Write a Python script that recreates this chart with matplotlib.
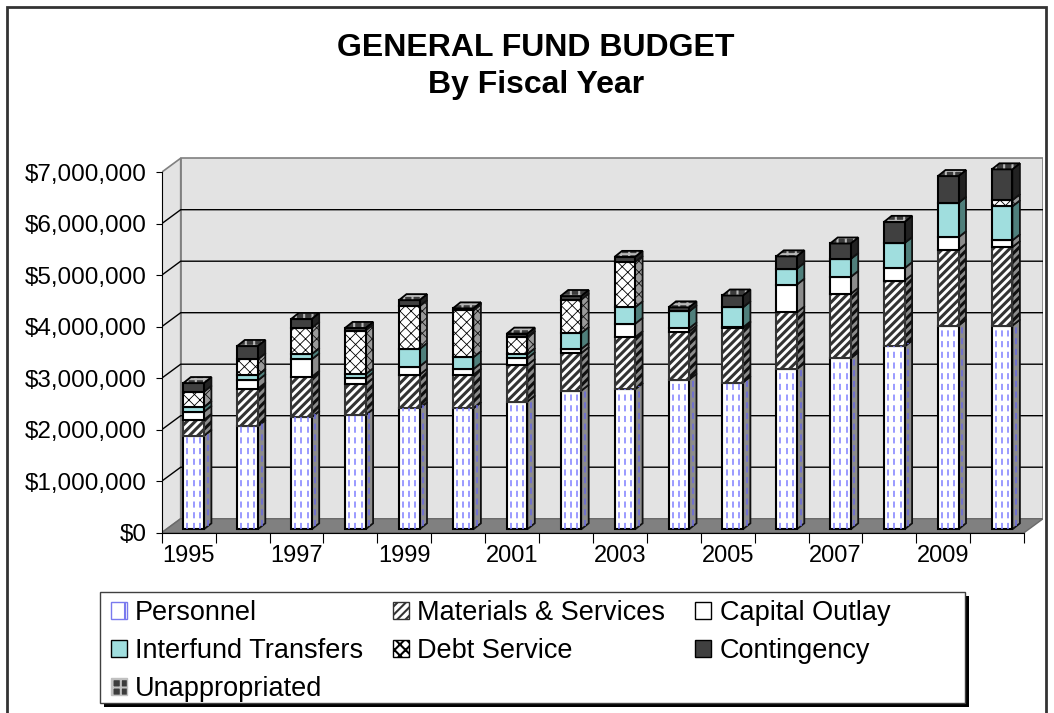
import numpy as np
import matplotlib
matplotlib.use('Agg')
import matplotlib.pyplot as plt
from matplotlib.patches import Polygon, Patch, Rectangle
from matplotlib.ticker import FuncFormatter

plt.rcParams['font.family'] = ['Liberation Sans', 'DejaVu Sans']

# data (dollars)
years = list(range(1995, 2011))
personnel = [1815000, 2000000, 2180000, 2220000, 2350000, 2350000, 2480000, 2690000,
             2720000, 2905000, 2850000, 3110000, 3320000, 3550000, 3955000, 3955000]
materials = [310000, 730000, 780000, 600000, 650000, 650000, 710000, 730000,
             1010000, 935000, 1050000, 1100000, 1250000, 1280000, 1475000, 1525000]
capital = [155000, 160000, 340000, 110000, 160000, 110000, 130000, 80000,
           260000, 60000, 20000, 540000, 330000, 240000, 240000, 130000]
interfund = [90000, 100000, 100000, 80000, 340000, 230000, 80000, 310000,
             320000, 330000, 390000, 310000, 350000, 490000, 670000, 660000]
debt = [300000, 310000, 510000, 850000, 830000, 910000, 330000, 650000,
        880000, 0, 0, 0, 0, 0, 0, 120000]
contingency = [170000, 260000, 175000, 50000, 120000, 40000, 70000, 70000,
               100000, 80000, 230000, 240000, 300000, 410000, 520000, 600000]
unappropriated = [0] * 16

W, H = 1054, 713
fig = plt.figure(figsize=(W / 100, H / 100), dpi=100)

# axes placed in pixels: front-left corner of the 3d box and back wall top
ax_left, ax_right, ax_bottom, ax_top = 161.7, 1043, 532.7, 156
ax = fig.add_axes([ax_left / W, 1 - ax_bottom / H,
                   (ax_right - ax_left) / W, (ax_bottom - ax_top) / H])
px_x = 53.9          # px per category
px_y = 51.5 / 1e6    # px per dollar
ax.set_xlim(-0.5, -0.5 + (ax_right - ax_left) / px_x)
ax.set_ylim(0, (ax_bottom - ax_top) / px_y)
ax.patch.set_visible(False)

# fake 3d offsets
wdx, wdy = 19 / px_x, 14 / px_y       # walls
bdx, bdy = 7.5 / px_x, 6 / px_y       # bar depth
offx, offy = 5 / px_x, 3.4 / px_y     # bar front face position
bw = 20.5 / px_x

n = len(years)
ymax = 7e6
x0, x1 = -0.5, n - 0.5

# walls and floor
ax.add_patch(Polygon([(x0 + wdx, wdy), (x1 + wdx, wdy), (x1 + wdx, ymax + wdy), (x0 + wdx, ymax + wdy)],
                     closed=True, fc='#e3e3e3', ec='#808080', lw=1.2, zorder=0.5))
ax.add_patch(Polygon([(x0, 0), (x0 + wdx, wdy), (x0 + wdx, ymax + wdy), (x0, ymax)],
                     closed=True, fc='#e3e3e3', ec='#808080', lw=1.2, zorder=0.5))
for v in np.arange(1e6, 7e6, 1e6):
    ax.plot([x0, x0 + wdx, x1 + wdx], [v, v + wdy, v + wdy], color='black', lw=1, zorder=0.6)
ax.add_patch(Polygon([(x0, 0), (x1, 0), (x1 + wdx, wdy), (x0 + wdx, wdy)],
                     closed=True, fc='#808080', ec='#6a6a6a', lw=1, zorder=0.7))

# name, values, front face, hatch, edge/hatch color, hatch lw, side face, side hatch
styles = [
    ('Personnel', personnel, 'white', '', 'black', 1.0, '#8c8c8c', ''),
    ('Materials & Services', materials, 'white', '////', '#333333', 2.2, '#8c8c8c', '////'),
    ('Capital Outlay', capital, 'white', '', 'black', 1.0, '#8c8c8c', ''),
    ('Interfund Transfers', interfund, '#a0dede', '', 'black', 1.0, '#4f7f7b', ''),
    ('Debt Service', debt, 'white', 'xxx', 'black', 0.6, '#9a9a9a', 'xxx'),
    ('Contingency', contingency, '#404040', '', 'black', 1.0, '#222222', ''),
    ('Unappropriated', unappropriated, '#3c3c3c', '++', 'black', 1.0, '#222222', ''),
]


def hlw(artist, lw):
    if hasattr(artist, 'set_hatch_linewidth'):
        artist.set_hatch_linewidth(lw)


xc = np.arange(n) + offx
bottom = np.full(n, offy)
handles = {}
for name, vals, fc, hatch, ec, hw, sfc, shatch in styles:
    plt.rcParams['hatch.linewidth'] = hw
    vals = np.array(vals, dtype=float)
    bars = ax.bar(xc, vals, bw, bottom=bottom, color=fc, hatch=hatch or None,
                  edgecolor=ec, lw=1.5, zorder=3)
    for r in bars:
        hlw(r, hw)
        x, w, y, h = r.get_x(), r.get_width(), r.get_y(), r.get_height()
        side = Polygon([(x + w, y), (x + w + bdx, y + bdy), (x + w + bdx, y + h + bdy), (x + w, y + h)],
                       closed=True, fc=sfc, hatch=shatch or None, ec='#111111', lw=1.3, zorder=2.5)
        hlw(side, hw)
        ax.add_patch(side)
        if name == 'Personnel':
            for f in (0.2, 0.5, 0.8):
                ax.plot([x + f * w] * 2, [y, y + h], ls=(0, (4, 3)), color='#7f7fff', lw=1.1, zorder=3.5)
            ax.plot([x + w + 0.5 * bdx] * 2, [y + 0.5 * bdy, y + h + 0.5 * bdy],
                    ls=(0, (4, 3)), color='#6a6ae0', lw=1.1, zorder=3.5)
    if name == 'Personnel':
        handles[name] = Patch(facecolor='white', hatch='|', edgecolor='#7a7aee', lw=1)
    elif name == 'Unappropriated':
        handles[name] = Patch(facecolor='#3c3c3c', hatch='++', edgecolor='#c0c0c0', lw=1)
    else:
        handles[name] = Patch(facecolor=fc, hatch=hatch or None, edgecolor=ec, lw=1)
    hlw(handles[name], hw)
    bottom = bottom + vals

# top faces (checkered top series)
plt.rcParams['hatch.linewidth'] = 1.5
for i in range(n):
    xl = xc[i] - bw / 2
    top = bottom[i]
    pts = [(xl, top), (xl + bw, top), (xl + bw + bdx, top + bdy), (xl + bdx, top + bdy)]
    face = Polygon(pts, closed=True, fc='#3c3c3c', hatch='++', ec='#b8b8b8', lw=0, zorder=4)
    hlw(face, 1.5)
    ax.add_patch(face)
    ax.add_patch(Polygon(pts, closed=True, fill=False, ec='black', lw=1.3, zorder=4.1))

# axes styling
for s in ['top', 'right']:
    ax.spines[s].set_visible(False)
ax.spines['left'].set_bounds(0, ymax)
ax.spines['bottom'].set_bounds(x0, x1)
ax.set_yticks(np.arange(0, ymax + 1, 1e6))
ax.yaxis.set_major_formatter(FuncFormatter(lambda v, p: '${:,.0f}'.format(v)))
ax.tick_params(axis='y', length=4, pad=7, labelsize=17.5)
ax.set_xticks(np.arange(x0, x1 + 0.01, 1))
ax.set_xticklabels([])
ax.tick_params(axis='x', which='major', length=7)
ax.set_xticks(np.arange(0, n, 2), minor=True)
ax.set_xticklabels([str(y) for y in years[::2]], minor=True)
ax.tick_params(axis='x', which='minor', length=0, pad=9, labelsize=17)

# title
fig.text(536 / W, 1 - 56 / H, 'GENERAL FUND BUDGET', ha='center', va='baseline',
         fontsize=23, fontweight='bold')
fig.text(536 / W, 1 - 92.7 / H, 'By Fiscal Year', ha='center', va='baseline',
         fontsize=23, fontweight='bold')

# legend box with hard shadow, drawn separately so it spans like the original
lb_x0, lb_y0, lb_x1, lb_y1 = 100, 592, 965, 703
fig.patches.append(Rectangle((lb_x0 / W + 4 / W, 1 - (lb_y1 + 4) / H), (lb_x1 - lb_x0) / W,
                             (lb_y1 - lb_y0) / H, transform=fig.transFigure,
                             fc='black', ec='none', zorder=1))
fig.patches.append(Rectangle((lb_x0 / W, 1 - lb_y1 / H), (lb_x1 - lb_x0) / W,
                             (lb_y1 - lb_y0) / H, transform=fig.transFigure,
                             fc='white', ec='#404040', lw=1, zorder=1.1))

# legend, filled row by row like the original
order = ['Personnel', 'Interfund Transfers', 'Unappropriated',
         'Materials & Services', 'Debt Service',
         'Capital Outlay', 'Contingency']
leg = fig.legend([handles[k] for k in order], order, ncol=3, loc='upper left',
                 bbox_to_anchor=(104 / W, 1 - 593 / H), fontsize=19.5, frameon=False,
                 handlelength=0.6, handleheight=0.6, handletextpad=0.3,
                 columnspacing=1.1, labelspacing=0.45, borderpad=0.25, borderaxespad=0)
leg.set_zorder(2)

# outer chart border
fig.patches.append(Rectangle((7 / W, -0.05), (1046 - 7) / W, 1.05 - 7.3 / H,
                             transform=fig.transFigure, fill=False, ec='#333333', lw=2))

fig.savefig('out.png', dpi=100)
